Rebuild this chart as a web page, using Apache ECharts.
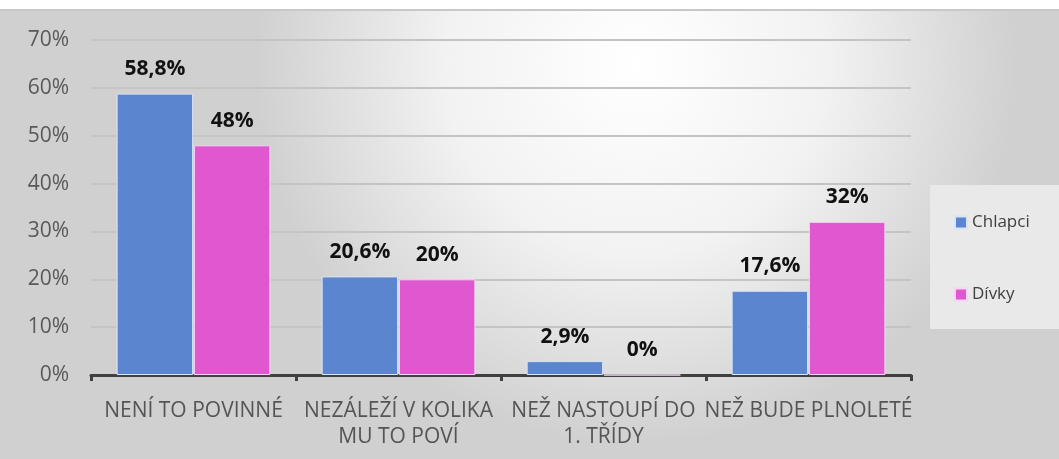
<!DOCTYPE html>
<html>
<head>
<meta charset="utf-8">
<script src="https://cdn.jsdelivr.net/npm/echarts@6/dist/echarts.min.js"></script>
<style>
  html, body { margin: 0; padding: 0; background: #fff; }
  #chart { width: 1059px; height: 459px; }
</style>
</head>
<body>
<div id="chart"></div>
<script>
const categories = ['NENÍ TO POVINNÉ', 'NEZÁLEŽÍ V KOLIKA\nMU TO POVÍ', 'NEŽ NASTOUPÍ DO\n1. TŘÍDY', 'NEŽ BUDE PLNOLETÉ']
const chlapci = [58.8, 20.6, 2.9, 17.6]
const divky = [48, 20, 0, 32]
const seriesNames = ['Chlapci', 'Dívky']

const fmt = (p) => String(p.value).replace('.', ',') + '%'
const font = '"Open Sans", "Noto Sans", sans-serif'

const chart = echarts.init(document.getElementById('chart'))

const barLabel = {
  show: true,
  position: 'top',
  distance: 14,
  formatter: fmt,
  color: '#111',
  fontWeight: 'bold',
  fontSize: 21,
  fontFamily: font
}

chart.setOption({
  backgroundColor: 'transparent',
  animation: false,
  graphic: [{
    type: 'rect',
    z: -10,
    shape: { x: 0, y: 10, width: 1059, height: 449 },
    style: {
      fill: new echarts.graphic.RadialGradient(0.6, 0.12, 0.85, [
        { offset: 0, color: '#ffffff' },
        { offset: 0.5, color: '#f2f2f2' },
        { offset: 1, color: '#d0d0d0' }
      ])
    }
  }, {
    type: 'rect',
    z: -9,
    shape: { x: 0, y: 9, width: 1059, height: 2 },
    style: { fill: '#c8c8c8' }
  }],
  legend: {
    orient: 'vertical',
    left: 930,
    top: 185,
    padding: [29, 40, 26, 24],
    itemGap: 55,
    itemWidth: 12,
    itemHeight: 12,
    backgroundColor: '#e9e9e9',
    icon: 'rect',
    data: seriesNames,
    textStyle: { color: '#404040', fontSize: 17, fontFamily: font }
  },
  grid: {
    left: 91,
    right: 148,
    top: 40,
    bottom: 84
  },
  xAxis: {
    type: 'category',
    data: categories,
    axisLine: { lineStyle: { color: '#404040', width: 3 } },
    axisTick: { show: true, length: 6, lineStyle: { color: '#404040', width: 3 } },
    axisLabel: {
      color: '#555',
      fontSize: 21,
      fontFamily: font,
      lineHeight: 26,
      margin: 23,
      interval: 0
    }
  },
  yAxis: {
    type: 'value',
    min: 0,
    max: 70,
    interval: 10,
    axisLine: { show: false },
    axisTick: { show: false },
    axisLabel: {
      formatter: '{value}%',
      color: '#595959',
      fontSize: 21,
      fontFamily: font,
      margin: 22
    },
    splitLine: { lineStyle: { color: '#c4c4c4', width: 2 } }
  },
  series: [{
    name: seriesNames[0],
    type: 'bar',
    data: chlapci,
    barGap: '1%',
    barCategoryGap: '25%',
    itemStyle: { color: '#5b86cf', borderColor: '#d8e4f8', borderWidth: 1 },
    label: barLabel
  }, {
    name: seriesNames[1],
    type: 'bar',
    data: divky,
    itemStyle: { color: '#df58cf', borderColor: '#f6d6f2', borderWidth: 1 },
    label: barLabel
  }]
})
</script>
</body>
</html>
